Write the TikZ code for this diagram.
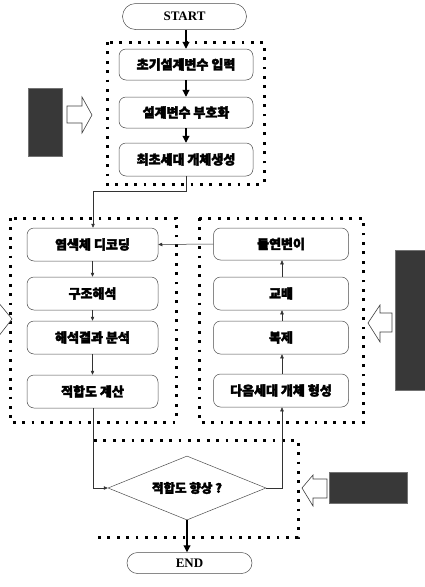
\documentclass[tikz,border=0pt]{standalone}
\usepackage{fontspec}
\setmainfont{Liberation Serif}
\newfontfamily\kr{Noto Sans CJK KR}[FakeBold=3]
\usetikzlibrary{shapes.geometric,shapes.misc,arrows.meta}
\tikzset{
  rbox/.style={draw=black!70, line width=0.5pt, rounded corners=7pt, inner sep=0pt, font=\kr\bfseries\fontsize{13}{14}\selectfont},
  term/.style={draw=black!70, line width=0.5pt, rounded rectangle, inner sep=0pt, font=\bfseries\fontsize{13}{14}\selectfont},
  dec/.style={draw=black!70, line width=0.5pt, diamond, aspect=2.47, inner sep=0pt, font=\kr\bfseries\fontsize{12.5}{13}\selectfont},
  dotbox/.style={line width=3pt, dash pattern=on 2.8pt off 6.6pt},
  thickarr/.style={line width=1.1pt, -{Triangle[length=7pt,width=7pt]}},
  thinarr/.style={line width=0.5pt, black!80, -{Triangle[length=4pt,width=3.5pt]}},
  darkbox/.style={fill=black!78, draw=black!55, line width=0.8pt},
  blockarr/.style={draw=black!75, line width=0.6pt, fill=white},
}
\begin{document}
\begin{tikzpicture}[x=1pt,y=-1pt]
\useasboundingbox (0,0) rectangle (424,587);

% dotted group frames
\draw[dotbox] (107,42) rectangle (264,184);
\draw[dotbox] (10,218) rectangle (176,422);
\draw[dotbox] (199,218) rectangle (363,422);
\draw[dotbox] (94,440) -- (298,440) -- (298,537) -- (92,537);

% nodes
\node[term, minimum width=124pt, minimum height=26pt] (start) at (184.5,16.5) {START};
\node[rbox, minimum width=134pt, minimum height=31pt] (b1) at (186,64.5) {초기설계변수 입력};
\node[rbox, minimum width=134pt, minimum height=31pt] (b2) at (186,112.5) {설계변수 부호화};
\node[rbox, minimum width=134pt, minimum height=33pt] (b3) at (186,159.5) {최초세대 개체생성};

\node[rbox, minimum width=131pt, minimum height=33pt] (l1) at (92.5,244.5) {염색체 디코딩};
\node[rbox, minimum width=131pt, minimum height=33pt] (l2) at (92.5,293.5) {구조해석};
\node[rbox, minimum width=131pt, minimum height=33pt] (l3) at (92.5,337.5) {해석결과 분석};
\node[rbox, minimum width=131pt, minimum height=33pt] (l4) at (92.5,391.5) {적합도 계산};

\node[rbox, minimum width=135pt, minimum height=32pt] (r1) at (281,244) {돌연변이};
\node[rbox, minimum width=135pt, minimum height=33pt] (r2) at (281,293.5) {교배};
\node[rbox, minimum width=135pt, minimum height=33pt] (r3) at (281,337.5) {복제};
\node[rbox, minimum width=135pt, minimum height=33pt] (r4) at (281,390.5) {다음세대 개체 형성};

\node[dec, minimum width=158pt, minimum height=64pt] (d) at (187,488) {적합도 향상 ?};
\node[term, minimum width=125pt, minimum height=21pt] (end) at (189.5,563) {END};

% connectors
\draw[thickarr] (start.south -| b1.north) -- (b1.north);
\draw[thickarr] (b1) -- (b2);
\draw[thickarr] (b2) -- (b3);
\coordinate (c1) at (186,191);
\coordinate (c2) at (93,191);
\draw[thinarr] (b3.south) -- (c1) -- (c2) -- (l1.north -| c2);
\draw[thinarr] (r1.west) -- (l1.east);
\draw[thinarr] (l1) -- (l2);
\draw[thinarr] (l2) -- (l3);
\draw[thinarr] (l3) -- (l4);
\coordinate (c3) at (93,488);
\draw[thinarr] (l4.south -| c3) -- (c3) -- (d.west);
\coordinate (c4) at (282,488);
\draw[thinarr] (d.east) -- (c4) -- (r4.south -| c4);
\draw[thinarr] (r4.north -| c4) -- (r3.south -| c4);
\draw[thinarr] (r3.north -| c4) -- (r2.south -| c4);
\draw[thinarr] (r2.north -| c4) -- (r1.south -| c4);
\draw[thickarr] (d.south) -- (end.north -| d.south);

% dark label boxes
\draw[darkbox] (28,88) rectangle (62,156);
\draw[darkbox] (395,250) rectangle (426,390);
\draw[darkbox] (329,472) rectangle (407,503);

% hollow block arrows
\draw[blockarr] (67,106) -- (82,106) -- (82,97) -- (92,115) -- (82,133) -- (82,123) -- (67,123) -- cycle;
\draw[blockarr] (-2,302) -- (12,319) -- (-2,337);
\draw[blockarr] (392,313) -- (380,313) -- (380,305) -- (368,323) -- (380,342) -- (380,332) -- (392,332) -- cycle;
\draw[blockarr] (327,479) -- (313,479) -- (313,475) -- (302,488) -- (313,506) -- (313,498) -- (327,498) -- cycle;
\end{tikzpicture}
\end{document}
